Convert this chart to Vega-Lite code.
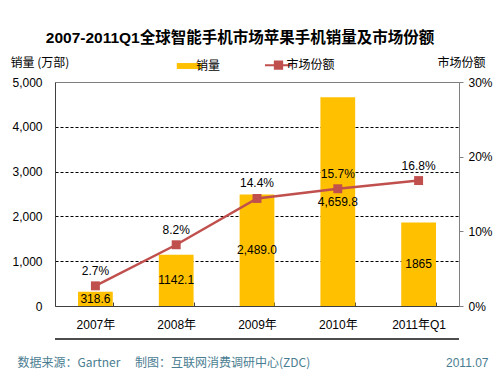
{
  "$schema": "https://vega.github.io/schema/vega-lite/v6.json",
  "autosize": {"type": "none"},
  "padding": {"left": 55, "top": 82, "right": 43, "bottom": 70},
  "width": 404,
  "height": 224,
  "background": "white",
  "title": {
    "text": "2007-2011Q1全球智能手机市场苹果手机销量及市场份额",
    "anchor": "middle",
    "frame": "group",
    "dx": -17,
    "dy": 4,
    "offset": 14,
    "fontSize": 15.5,
    "fontWeight": "bold",
    "font": "Liberation Sans, Noto Sans CJK SC",
    "color": "#000"
  },
  "config": {
    "view": {"stroke": "#808080", "strokeWidth": 1, "clip": false},
    "axis": {
      "labelFont": "Liberation Sans, Noto Sans CJK SC",
      "labelFontSize": 12,
      "labelColor": "#000",
      "titleFont": "Noto Sans CJK SC",
      "titleFontSize": 12,
      "titleFontWeight": "normal",
      "titleColor": "#000"
    }
  },
  "data": {
    "values": [
      {"year": "2007年", "sales": 318.6, "salesLabel": "318.6", "share": 2.7, "shareLabel": "2.7%"},
      {"year": "2008年", "sales": 1142.1, "salesLabel": "1142.1", "share": 8.2, "shareLabel": "8.2%"},
      {"year": "2009年", "sales": 2489.0, "salesLabel": "2,489.0", "share": 14.4, "shareLabel": "14.4%"},
      {"year": "2010年", "sales": 4659.8, "salesLabel": "4,659.8", "share": 15.7, "shareLabel": "15.7%"},
      {"year": "2011年Q1", "sales": 1865, "salesLabel": "1865", "share": 16.8, "shareLabel": "16.8%"}
    ]
  },
  "resolve": {"scale": {"y": "independent"}, "axis": {"x": "independent"}},
  "layer": [
    {
      "layer": [
        {
          "mark": {"type": "bar"},
          "encoding": {
            "x": {
              "field": "year", "type": "nominal", "sort": null,
              "scale": {"paddingInner": 0.57, "paddingOuter": 0.285},
              "axis": {
                "orient": "bottom",
                "labelAngle": 0,
                "tickBand": "extent",
                "tickSize": -4,
                "tickColor": "#404040",
                "domainColor": "#404040",
                "labelPadding": 17,
                "title": "数据来源：Gartner　 制图：互联网消费调研中心(ZDC)",
                "titleAlign": "left",
                "titleAnchor": "start",
                "titleX": -38,
                "titleY": 56,
                "titleBaseline": "middle",
                "titleColor": "#4A7D91"
              }
            },
            "y": {
              "field": "sales", "type": "quantitative",
              "scale": {"domain": [0, 5000], "clamp": false},
              "axis": {
                "title": "销量 (万部)",
                "titleAngle": 0,
                "titleAlign": "left",
                "titleBaseline": "middle",
                "titleX": -45,
                "titleY": -20,
                "values": [0, 1000, 2000, 3000, 4000, 5000],
                "labelExpr": "format(datum.value, ',')",
                "ticks": false,
                "labelPadding": 13,
                "domainColor": "#404040",
                "grid": true,
                "gridDash": [3, 2],
                "gridColor": "#000",
                "gridOpacity": {"condition": {"test": "datum.value === 0 || datum.value === 5000", "value": 0}, "value": 1}
              }
            },
            "color": {
              "datum": "销量", "type": "nominal",
              "scale": {"domain": ["销量", "市场份额"], "range": ["#FFC000", "#C0504D"]},
              "legend": {
                "orient": "none",
                "legendX": 127,
                "legendY": -23,
                "direction": "horizontal",
                "title": null,
                "symbolType": "M-1,0H1",
                "symbolSize": 729,
                "symbolStrokeWidth": 1.5,
                "labelFont": "Noto Sans CJK SC",
                "labelFontSize": 12,
                "labelColor": "#000",
                "labelOffset": 2,
                "columnPadding": 39.5,
                "encode": {
                  "symbols": {
                    "update": {
                      "shape": {"signal": "datum.value === '销量' ? 'M-1,0M-0.83,-0.22H1V0.22H-0.83Z' : 'M-1,0H1M-0.27,-0.27H0.27V0.27H-0.27Z'"},
                      "fill": {"signal": "datum.value === '销量' ? '#FFC000' : '#C0504D'"},
                      "stroke": {"signal": "datum.value === '销量' ? '#FFC000' : '#C0504D'"},
                      "strokeWidth": {"signal": "datum.value === '销量' ? 0 : 2"},
                      "opacity": {"value": 1},
                      "fillOpacity": {"value": 1}
                    }
                  }
                }
              }
            }
          }
        },
        {
          "mark": {"type": "text", "color": "#000", "font": "Liberation Sans", "fontSize": 12},
          "transform": [{"calculate": "datum.sales / 2", "as": "mid"}],
          "encoding": {
            "x": {"field": "year", "type": "nominal", "sort": null},
            "y": {"field": "mid", "type": "quantitative", "title": "销量 (万部)"},
            "text": {"field": "salesLabel"}
          }
        },
        {
          "mark": {"type": "rule", "color": "#4d4d4d", "strokeWidth": 2, "clip": false},
          "encoding": {
            "y": {"datum": -737, "type": "quantitative"}
          }
        }
      ]
    },
    {
      "layer": [
        {
          "mark": {"type": "line", "strokeWidth": 2.5, "point": {"shape": "square", "size": 80, "filled": true}},
          "encoding": {
            "x": {
              "field": "year", "type": "nominal", "sort": null,
              "axis": {
                "orient": "bottom",
                "labels": false,
                "ticks": false,
                "grid": false,
                "domain": false,
                "title": "2011.07",
                "titleAlign": "right",
                "titleX": 433,
                "titleY": 56,
                "titleBaseline": "middle",
                "titleColor": "#4A7D91",
                "titleFont": "Liberation Sans"
              }
            },
            "y": {
              "field": "share", "type": "quantitative",
              "scale": {"domain": [0, 30], "clamp": false},
              "axis": {
                "orient": "right",
                "title": "市场份额",
                "titleAngle": 0,
                "titleAlign": "left",
                "titleBaseline": "middle",
                "titleX": -22,
                "titleY": -20,
                "values": [0, 10, 20, 30],
                "labelExpr": "datum.value + '%'",
                "tickSize": 4,
                "tickColor": "#808080",
                "domainColor": "#808080",
                "labelPadding": 5,
                "grid": false
              }
            },
            "color": {"datum": "市场份额", "type": "nominal"}
          }
        },
        {
          "mark": {"type": "text", "color": "#000", "font": "Liberation Sans", "fontSize": 12, "dy": -15},
          "encoding": {
            "x": {"field": "year", "type": "nominal", "sort": null},
            "y": {"field": "share", "type": "quantitative", "title": "市场份额"},
            "text": {"field": "shareLabel"}
          }
        }
      ]
    }
  ]
}
